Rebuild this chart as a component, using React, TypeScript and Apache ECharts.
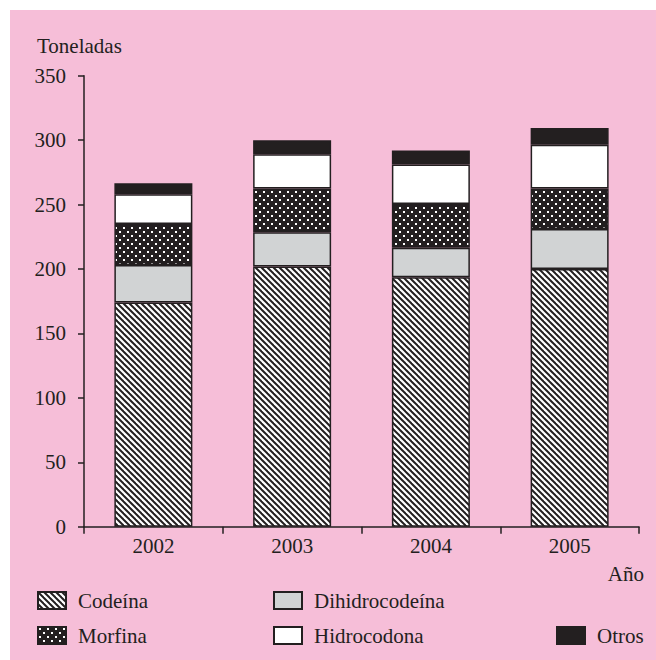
import React, { useEffect, useRef } from 'react';
import * as echarts from 'echarts';

const years = ['2002', '2003', '2004', '2005'];
const codeina = [174, 202, 193.5, 200];
const dihidrocodeina = [29, 26.5, 23, 31];
const morfina = [32, 34, 34, 31.5];
const hidrocodona = [23, 26.5, 30.5, 34];
const otros = [8.5, 11, 11, 13];
const seriesNames = ['Codeína', 'Dihidrocodeína', 'Morfina', 'Hidrocodona', 'Otros'];

const INK = '#231F20';
const PINK = '#F6BED8';
const FONT = 'Liberation Serif';

function hatchPattern() {
  const c = document.createElement('canvas');
  c.width = 6;
  c.height = 6;
  const g = c.getContext('2d')!;
  g.fillStyle = '#ffffff';
  g.fillRect(0, 0, 6, 6);
  g.strokeStyle = INK;
  g.lineWidth = 2;
  for (const k of [-6, 0, 6]) {
    g.beginPath();
    g.moveTo(k - 2, -2);
    g.lineTo(k + 8, 8);
    g.stroke();
  }
  return { image: c, repeat: 'repeat', imageWidth: 6, imageHeight: 6 };
}

function dotPattern() {
  const c = document.createElement('canvas');
  c.width = 8;
  c.height = 8;
  const g = c.getContext('2d')!;
  g.fillStyle = INK;
  g.fillRect(0, 0, 8, 8);
  g.fillStyle = '#ffffff';
  g.fillRect(1, 1, 2, 2);
  g.fillRect(5, 5, 2, 2);
  return { image: c, repeat: 'repeat', imageWidth: 8, imageHeight: 8 };
}

export default function App() {
  const ref = useRef<HTMLDivElement>(null);
  useEffect(() => {
    document.body.style.margin = '0';
    const chart = echarts.init(ref.current!, null, { renderer: 'svg' });
    const fills: any[] = [hatchPattern(), '#D1D3D4', dotPattern(), '#FFFFFF', INK];
    const values = [codeina, dihidrocodeina, morfina, hidrocodona, otros];
    const legendPos = [
      { left: 27, top: 580 },
      { left: 263, top: 580 },
      { left: 27, top: 615 },
      { left: 263, top: 615 },
      { left: 546, top: 615 },
    ];
    chart.setOption({
      animation: false,
      backgroundColor: PINK,
      grid: { left: 74, top: 65.7, width: 555, height: 451, containLabel: false },
      xAxis: {
        type: 'category',
        data: years,
        axisLine: { lineStyle: { color: INK, width: 1.5 } },
        axisTick: { show: true, length: 7, lineStyle: { color: INK, width: 1.5 } },
        axisLabel: { color: INK, fontFamily: FONT, fontSize: 21, margin: 9 },
      },
      yAxis: {
        type: 'value',
        min: 0,
        max: 350,
        interval: 50,
        splitLine: { show: false },
        axisLine: { show: true, lineStyle: { color: INK, width: 1.5 } },
        axisTick: { show: true, length: 6, lineStyle: { color: INK, width: 1.5 } },
        axisLabel: { color: INK, fontFamily: FONT, fontSize: 21, margin: 18 },
      },
      legend: seriesNames.map((n, i) => ({
        data: [n],
        left: legendPos[i].left,
        top: legendPos[i].top,
        padding: 0,
        itemWidth: 28,
        itemHeight: 17,
        icon: 'rect',
        selectedMode: false,
        textStyle: { color: INK, fontFamily: FONT, fontSize: 21, lineHeight: 18, padding: [0, 0, 0, 7] },
      })),
      series: seriesNames.map((n, i) => ({
        name: n,
        type: 'bar',
        stack: 'total',
        barWidth: 78,
        data: values[i],
        itemStyle: { color: fills[i], borderColor: INK, borderWidth: 1.5 },
      })),
      graphic: [
        {
          type: 'text',
          left: 27,
          top: 25,
          style: { text: 'Toneladas', fill: INK, font: `21px "${FONT}"` },
        },
        {
          type: 'text',
          right: 12,
          top: 553,
          style: { text: 'Año', fill: INK, font: `21px "${FONT}"` },
        },
      ],
    });
    return () => chart.dispose();
  }, []);
  return (
    <div style={{ width: 656, height: 660, background: '#ffffff', position: 'relative' }}>
      <div ref={ref} style={{ position: 'absolute', left: 10, top: 10, width: 646, height: 650 }} />
    </div>
  );
}
